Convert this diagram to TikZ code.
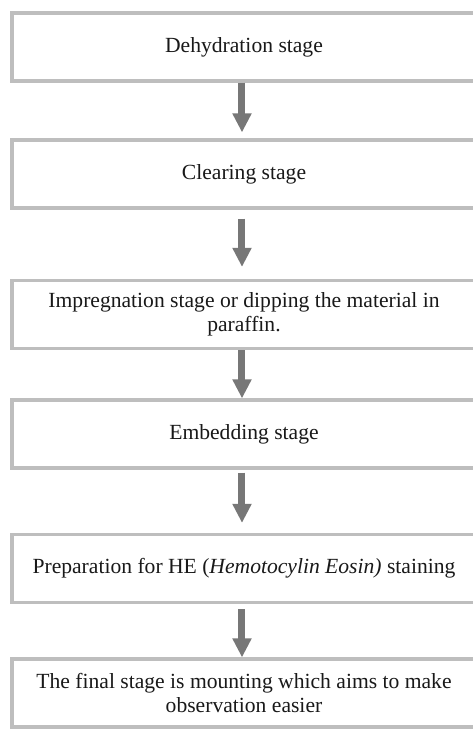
\documentclass[tikz,border=0pt]{standalone}
\usepackage{fontspec}
\setmainfont{Liberation Serif}
\usepackage{tikz}
\usetikzlibrary{arrows.meta}
\definecolor{boxgray}{HTML}{BEBEBE}
\definecolor{arrowgray}{HTML}{777777}
\begin{document}
\begin{tikzpicture}[x=0.5pt,y=-0.5pt,
  stage/.style={rectangle,draw=boxgray,line width=1.6pt,fill=white,minimum width=232pt,minimum height=34pt,inner sep=0pt,align=center,font=\fontsize{10.8}{12.2}\selectfont,text=black!90},
  flow/.style={draw=arrowgray,line width=3.5pt,-{Triangle[width=9pt,length=9.5pt]}}]
\clip (0,0) rectangle (473,736);
\node[stage] (dehyd) at (244,47) {Dehydration stage};
\node[stage] (clear) at (244,174) {Clearing stage};
\node[stage] (impreg) at (244,314.5) {Impregnation stage or dipping the material in\\paraffin.};
\node[stage] (embed) at (244,434) {Embedding stage};
\node[stage] (prep) at (244,568.5) {Preparation for HE (\textit{Hemotocylin Eosin)} staining};
\node[stage] (mount) at (244,693) {The final stage is mounting which aims to make\\observation easier};
\foreach \a/\b/\s/\e in %
{dehyd/clear/0/3,clear/impreg/4.5/6,impreg/embed/0/0,embed/prep/1.5/5,prep/mount/2.5/0} {
   \draw[flow,shorten <=\s pt,shorten >=\e pt] ([xshift=-1pt]\a.south) -- ([xshift=-1pt]\b.north);
}
\end{tikzpicture}
\end{document}
